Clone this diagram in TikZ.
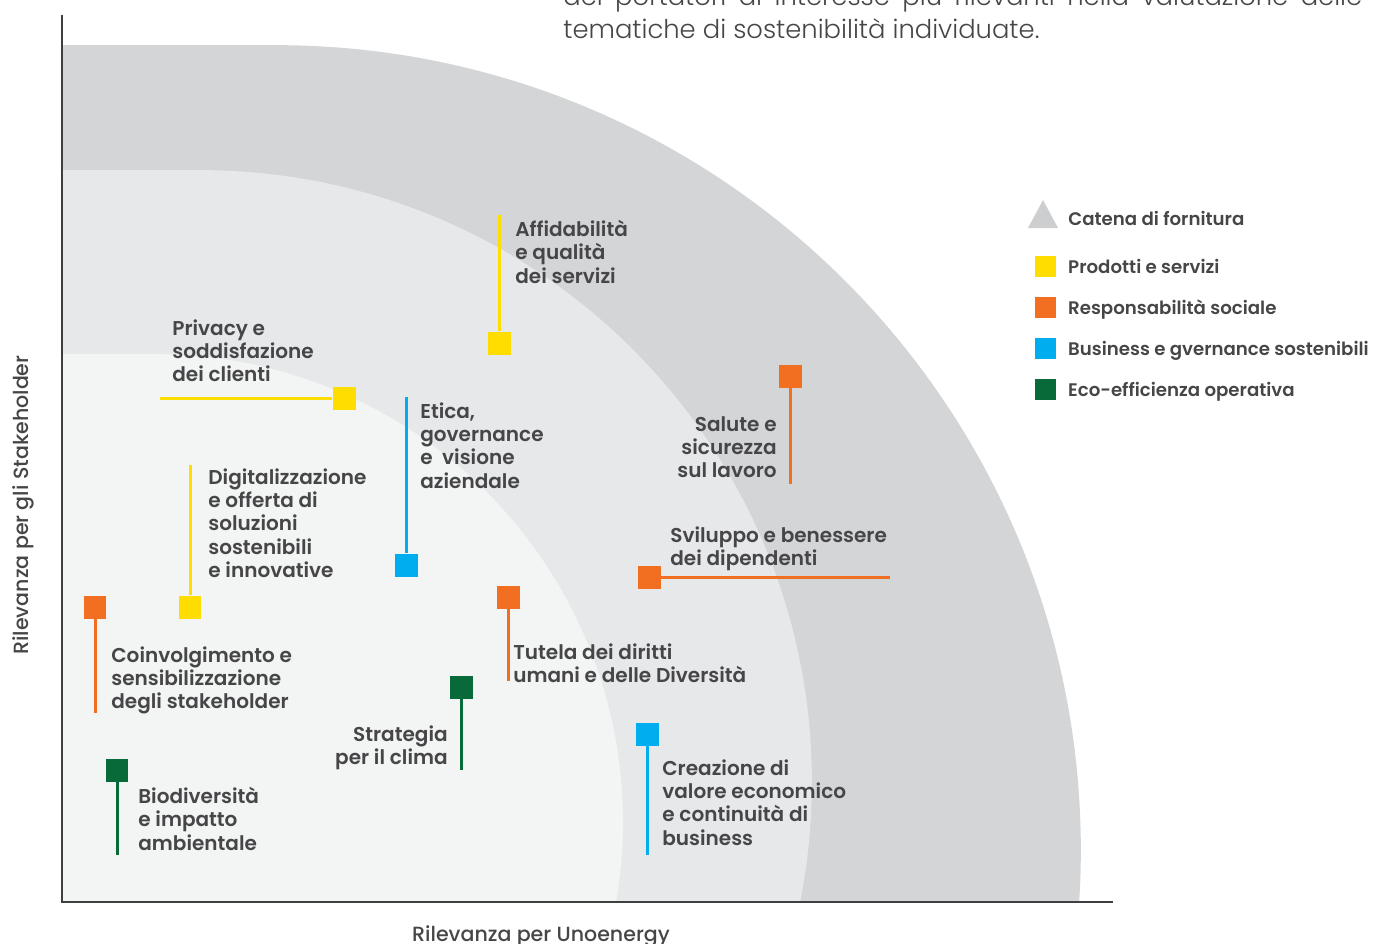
\documentclass[tikz,border=0pt]{standalone}
\usepackage{fontspec}
\IfFontExistsTF{Poppins SemiBold}{\setmainfont{Poppins SemiBold}}{\setmainfont{Poppins}[FakeBold=0.5]}
\IfFontExistsTF{Poppins Medium}{\newfontfamily\axisfont{Poppins Medium}}{\newfontfamily\axisfont{Poppins}}
\IfFontExistsTF{Poppins Light}{\newfontfamily\thinfont{Poppins Light}}{\newfontfamily\thinfont{Poppins}}
\usetikzlibrary{positioning}

\definecolor{cProd}{HTML}{FFDD00}
\definecolor{cSoc}{HTML}{F26F21}
\definecolor{cBiz}{HTML}{00AEEF}
\definecolor{cEco}{HTML}{076A38}
\definecolor{bandOut}{HTML}{D4D5D7}
\definecolor{bandMid}{HTML}{E7E8EA}
\definecolor{bandIn}{HTML}{F3F4F4}
\definecolor{keyTri}{HTML}{CDCED0}
\definecolor{inkgray}{HTML}{464648}
\newcommand{\topicfont}{\fontsize{11.4}{13.3}\selectfont}
\newcommand{\keyfont}{\fontsize{10.35}{12}\selectfont}

\begin{document}
\begin{tikzpicture}[
            x = 0.02cm, y = -0.02cm, % one unit = one pixel, y grows downwards
            node distance = 0.826cm, % spacing of the legend keys
            topic/.style = {text = inkgray, font = \topicfont, align = left, inner sep = 0pt},
            dot/.style = {rectangle, minimum size = 0.46cm, inner sep = 0pt},
            stem/.style = {line width = 0.06cm},
            key/.style = {rectangle, minimum size = 0.42cm, inner sep = 0pt},
            keytext/.style = {text = inkgray, font = \keyfont, inner sep = 0pt},
            axistext/.style = {text = inkgray, font = \axisfont\fontsize{11.7}{14}\selectfont, anchor = base, inner sep = 0pt}
        ]

        \clip (0,0) rectangle (1374,944);

        % bands of relevance
        \begin{scope}
            \clip (62,0) rectangle (1113,902);
            \fill[bandOut] (276,850) circle[radius=16.1cm];
            \fill[bandOut] (62,45) rectangle (276,902);
            \fill[bandMid] (200,782) circle[radius=12.24cm];
            \fill[bandMid] (62,170) rectangle (200,902);
            \fill[bandIn] (155,822) circle[radius=9.36cm];
            \fill[bandIn] (62,354) rectangle (155,902);
        \end{scope}

        % axes
        \draw[line width = 0.03cm, inkgray!90!black] (62,15) -- (62,902) -- (1113,902);
        \node[axistext] (xlab) at (541,941) {Rilevanza per Unoenergy};
        \node[axistext, rotate = 90] (ylab) at (29,505) {Rilevanza per gli Stakeholder};

        % intro text
        \node[text = inkgray, font = \thinfont\fontsize{14.7}{17}\selectfont, anchor = base west, inner sep = 0pt] (introA) at (563,5)
            {\makebox[15.98cm][s]{dei portatori di interesse più rilevanti nella valutazione delle}};
        \node[text = inkgray, font = \thinfont\fontsize{14.7}{17}\selectfont, anchor = base west, inner sep = 0pt] (introB) at (563,38)
            {tematiche di sostenibilità individuate.};

        % topics
        \node[dot, fill = cProd] (aff) at (499,343) {};
        \coordinate (affEnd) at (499,215);
        \draw[stem, cProd] (aff) -- (affEnd);
        \node[topic, anchor = north west] (affT) at (515,220) {Affidabilità\\e qualità\\dei servizi};

        \node[dot, fill = cProd] (priv) at (344,398) {};
        \coordinate (privEnd) at (160,398);
        \draw[stem, cProd] (priv) -- (privEnd);
        \node[topic, anchor = north west] (privT) at (172,319) {Privacy e\\soddisfazione\\dei clienti};

        \node[dot, fill = cBiz] (etica) at (406,565) {};
        \coordinate (eticaEnd) at (406,397);
        \draw[stem, cBiz] (etica) -- (eticaEnd);
        \node[topic, anchor = north west] (eticaT) at (420,402) {Etica,\\governance\\e\ \ visione\\aziendale};

        \node[dot, fill = cProd] (digit) at (190,607) {};
        \coordinate (digitEnd) at (190,465);
        \draw[stem, cProd] (digit) -- (digitEnd);
        \node[topic, anchor = north west] (digitT) at (208,468) {Digitalizzazione\\e offerta di\\soluzioni\\sostenibili\\e innovative};

        \node[dot, fill = cSoc] (coinv) at (95,607) {};
        \coordinate (coinvEnd) at (95,713);
        \draw[stem, cSoc] (coinv) -- (coinvEnd);
        \node[topic, anchor = north west] (coinvT) at (111,646) {Coinvolgimento e\\sensibilizzazione\\degli stakeholder};

        \node[dot, fill = cEco] (biod) at (117,770) {};
        \coordinate (biodEnd) at (117,855);
        \draw[stem, cEco] (biod) -- (biodEnd);
        \node[topic, anchor = north west] (biodT) at (138,787) {Biodiversità\\e impatto\\ambientale};

        \node[dot, fill = cEco] (strat) at (461,687) {};
        \coordinate (stratEnd) at (461,770);
        \draw[stem, cEco] (strat) -- (stratEnd);
        \node[topic, align = right, anchor = north east] (stratT) at (448,725) {Strategia\\per il clima};

        \node[dot, fill = cSoc] (tutela) at (508,597) {};
        \coordinate (tutelaEnd) at (508,681);
        \draw[stem, cSoc] (tutela) -- (tutelaEnd);
        \node[topic, anchor = north west] (tutelaT) at (513,643) {Tutela dei diritti\\umani e delle Diversità};

        \node[dot, fill = cBiz] (creaz) at (647,734) {};
        \coordinate (creazEnd) at (647,855);
        \draw[stem, cBiz] (creaz) -- (creazEnd);
        \node[topic, anchor = north west] (creazT) at (662,759) {Creazione di\\valore economico\\e continuità di\\business};

        \node[dot, fill = cSoc] (salute) at (790,376) {};
        \coordinate (saluteEnd) at (790,484);
        \draw[stem, cSoc] (salute) -- (saluteEnd);
        \node[topic, align = right, anchor = north east] (saluteT) at (777,416) {Salute e\\sicurezza\\sul lavoro};

        \node[dot, fill = cSoc] (svil) at (649,577) {};
        \coordinate (svilEnd) at (890,577);
        \draw[stem, cSoc] (svil) -- (svilEnd);
        \node[topic, anchor = north west] (svilT) at (670,526) {Sviluppo e benessere\\dei dipendenti};

        % legend
        \fill[keyTri] (1028,228) -- (1043,200) -- (1058,228) -- cycle;
        \node[keytext, anchor = base west] (kCatT) at (1068,225) {Catena di fornitura};

        \node[key, fill = cProd] (kProd) at (1045,266) {};
        \node[key, fill = cSoc, below of = kProd] (kSoc) {};
        \node[key, fill = cBiz, below of = kSoc] (kBiz) {};
        \node[key, fill = cEco, below of = kBiz] (kEco) {};

        \node[keytext, right = 0.24cm of kProd, anchor = base west, yshift = -0.14cm] (kProdT) {Prodotti e servizi};
        \node[keytext, right = 0.24cm of kSoc, anchor = base west, yshift = -0.14cm] (kSocT) {Responsabilità sociale};
        \node[keytext, right = 0.24cm of kBiz, anchor = base west, yshift = -0.14cm] (kBizT) {Business e gvernance sostenibili};
        \node[keytext, right = 0.24cm of kEco, anchor = base west, yshift = -0.14cm] (kEcoT) {Eco-efficienza operativa};

  \end{tikzpicture}
\end{document}
